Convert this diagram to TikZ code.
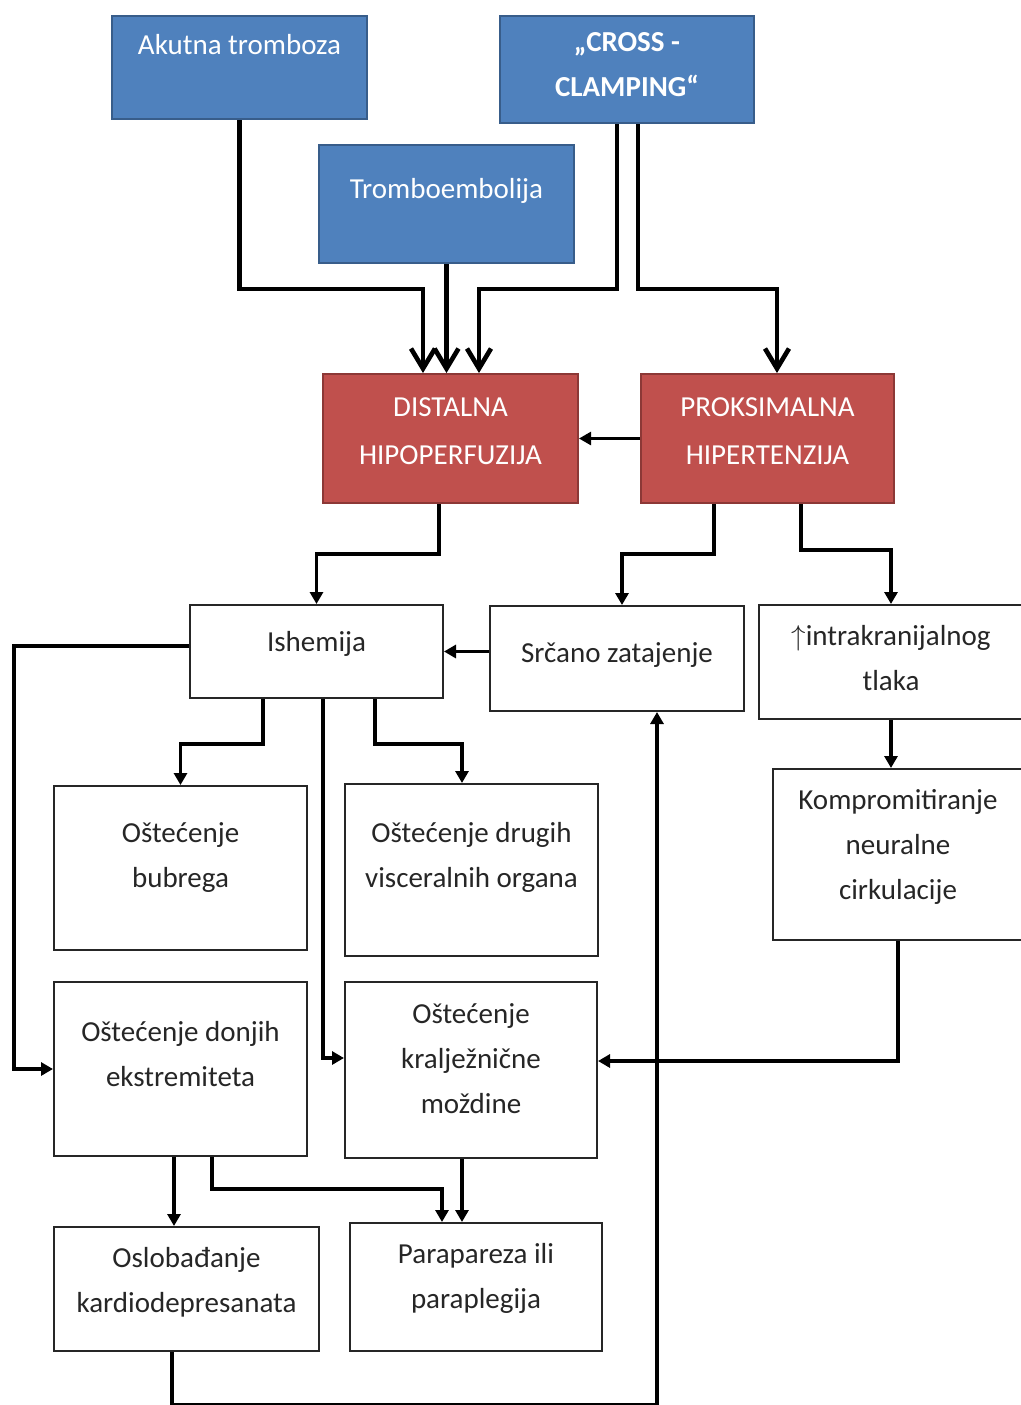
\documentclass[tikz,border=0pt]{standalone}
\usepackage{fontspec}
\setmainfont{Carlito}
\usepackage{xcolor}
\usetikzlibrary{arrows.meta}

\definecolor{fillblue}{HTML}{4F81BD}
\definecolor{lineblue}{HTML}{385D8A}
\definecolor{fillred}{HTML}{C0504D}
\definecolor{linered}{HTML}{8C3836}

\newdimen\pxu \pxu=0.5pt
\newcommand{\boxtxt}[4]{\parbox[c][#2\pxu][t]{#1\pxu}{\centering\rule{0pt}{#3\pxu}#4}}

\begin{document}
\begin{tikzpicture}[x=0.5pt,y=-0.5pt,
    every node/.style={font=\fontsize{14.5pt}{22.5pt}\selectfont},
    bluebox/.style={draw=lineblue,fill=fillblue,line width=1pt,inner sep=0pt,anchor=north west,text=white},
    redbox/.style={draw=linered,fill=fillred,line width=1pt,inner sep=0pt,anchor=north west,text=white,
        font=\fontsize{14.5pt}{24pt}\selectfont},
    whitebox/.style={draw=black!85,line width=1pt,inner sep=0pt,anchor=north west,text=black!85},
    heavy/.style={line width=2.3pt,-{Straight Barb[length=10pt,width=12pt,line width=2.3pt]}},
    conn/.style={line width=1.6pt,-{Triangle[length=6pt,width=6.5pt]}}]
\useasboundingbox (0,0) rectangle (1021,1405);

\node[bluebox] (akut) at (111,15) {\boxtxt{255}{103}{38}{Akutna tromboza}};
\node[bluebox] (cross) at (499,15) {\boxtxt{254}{107}{35}{\bfseries „CROSS -\\CLAMPING“}};
\node[bluebox] (tromb) at (318,144) {\boxtxt{255}{118}{53}{Tromboembolija}};
\node[redbox] (dist) at (322,373) {\boxtxt{255}{129}{42}{DISTALNA\\HIPOPERFUZIJA}};
\node[redbox] (prox) at (640,373) {\boxtxt{253}{129}{42}{PROKSIMALNA\\HIPERTENZIJA}};
\node[whitebox] (isch) at (189,604) {\boxtxt{253}{93}{46}{Ishemija}};
\node[whitebox] (srcan) at (489,605) {\boxtxt{254}{105}{56}{Srčano zatajenje}};
\node[whitebox] (intra) at (758,604) {\boxtxt{264}{114}{40}{$\uparrow$intrakranijalnog\\tlaka}};
\node[whitebox] (bubr) at (53,785) {\boxtxt{253}{164}{56}{Oštećenje\\bubrega}};
\node[whitebox] (visc) at (344,783) {\boxtxt{253}{172}{58}{Oštećenje drugih\\visceralnih organa}};
\node[whitebox] (komp) at (772,768) {\boxtxt{250}{171}{40}{Kompromitiranje\\neuralne\\cirkulacije}};
\node[whitebox] (donj) at (53,981) {\boxtxt{253}{174}{59}{Oštećenje donjih\\ekstremiteta}};
\node[whitebox] (kral) at (344,981) {\boxtxt{252}{176}{41}{Oštećenje\\kralježnične\\moždine}};
\node[whitebox] (oslo) at (53,1226) {\boxtxt{265}{124}{40}{Oslobađanje\\kardiodepresanata}};
\node[whitebox] (para) at (349,1222) {\boxtxt{252}{128}{40}{Parapareza ili\\paraplegija}};

\draw[heavy] (akut.south) -- ++(0,169) -| ([xshift=-13.75pt]dist.north);
\draw[heavy] (tromb.south) -- (tromb.south |- dist.north);
\draw[heavy] ([xshift=-5pt]cross.south) -- ++(0,165) -| ([xshift=14.25pt]dist.north);
\draw[heavy] ([xshift=5.5pt]cross.south) -- ++(0,165) -| ([xshift=4.75pt]prox.north);
\draw[line width=1.3pt,-{Triangle[length=6pt,width=6.5pt]}] (prox.west) -- (dist.east);

\draw[conn] ([xshift=-5.75pt]dist.south) -- ++(0,50) -| (isch.north);
\draw[conn] ([xshift=-26.75pt]prox.south) -- ++(0,50) -| ([xshift=2.5pt]srcan.north);
\draw[conn] ([xshift=16.75pt]prox.south) -- ++(0,46) -| (intra.north);
\draw[conn] (srcan.west |- isch.east) -- (isch.east);
\draw[conn] ([yshift=2.75pt]isch.west) -- ++(-175,0) |- (donj.west);
\draw[conn] ([xshift=-26.75pt]isch.south) -- ++(0,45) -| (bubr.north);
\draw[conn] ([xshift=29.25pt]isch.south) -- ++(0,45) -| ([xshift=-4.75pt]visc.north);
\draw[conn] ([xshift=3.25pt]isch.south) |- ([yshift=6pt]kral.west);
\draw[conn] (intra.south) -- (intra.south |- komp.north);
\draw[conn] (komp.south) |- ([yshift=4.5pt]kral.east);
\draw[conn] ([xshift=-3.25pt]donj.south) -- ([xshift=-3.25pt]donj.south |- oslo.north);
\draw[conn] ([xshift=15.75pt]donj.south) -- ++(0,32) -| ([xshift=-17pt]para.north);
\draw[conn] ([xshift=-4.5pt]kral.south) -- ([xshift=-4.5pt]kral.south |- para.north);
\draw[conn] ([xshift=-7.25pt]oslo.south) -- ++(0,53) -| ([xshift=20pt]srcan.south);
\end{tikzpicture}
\end{document}
